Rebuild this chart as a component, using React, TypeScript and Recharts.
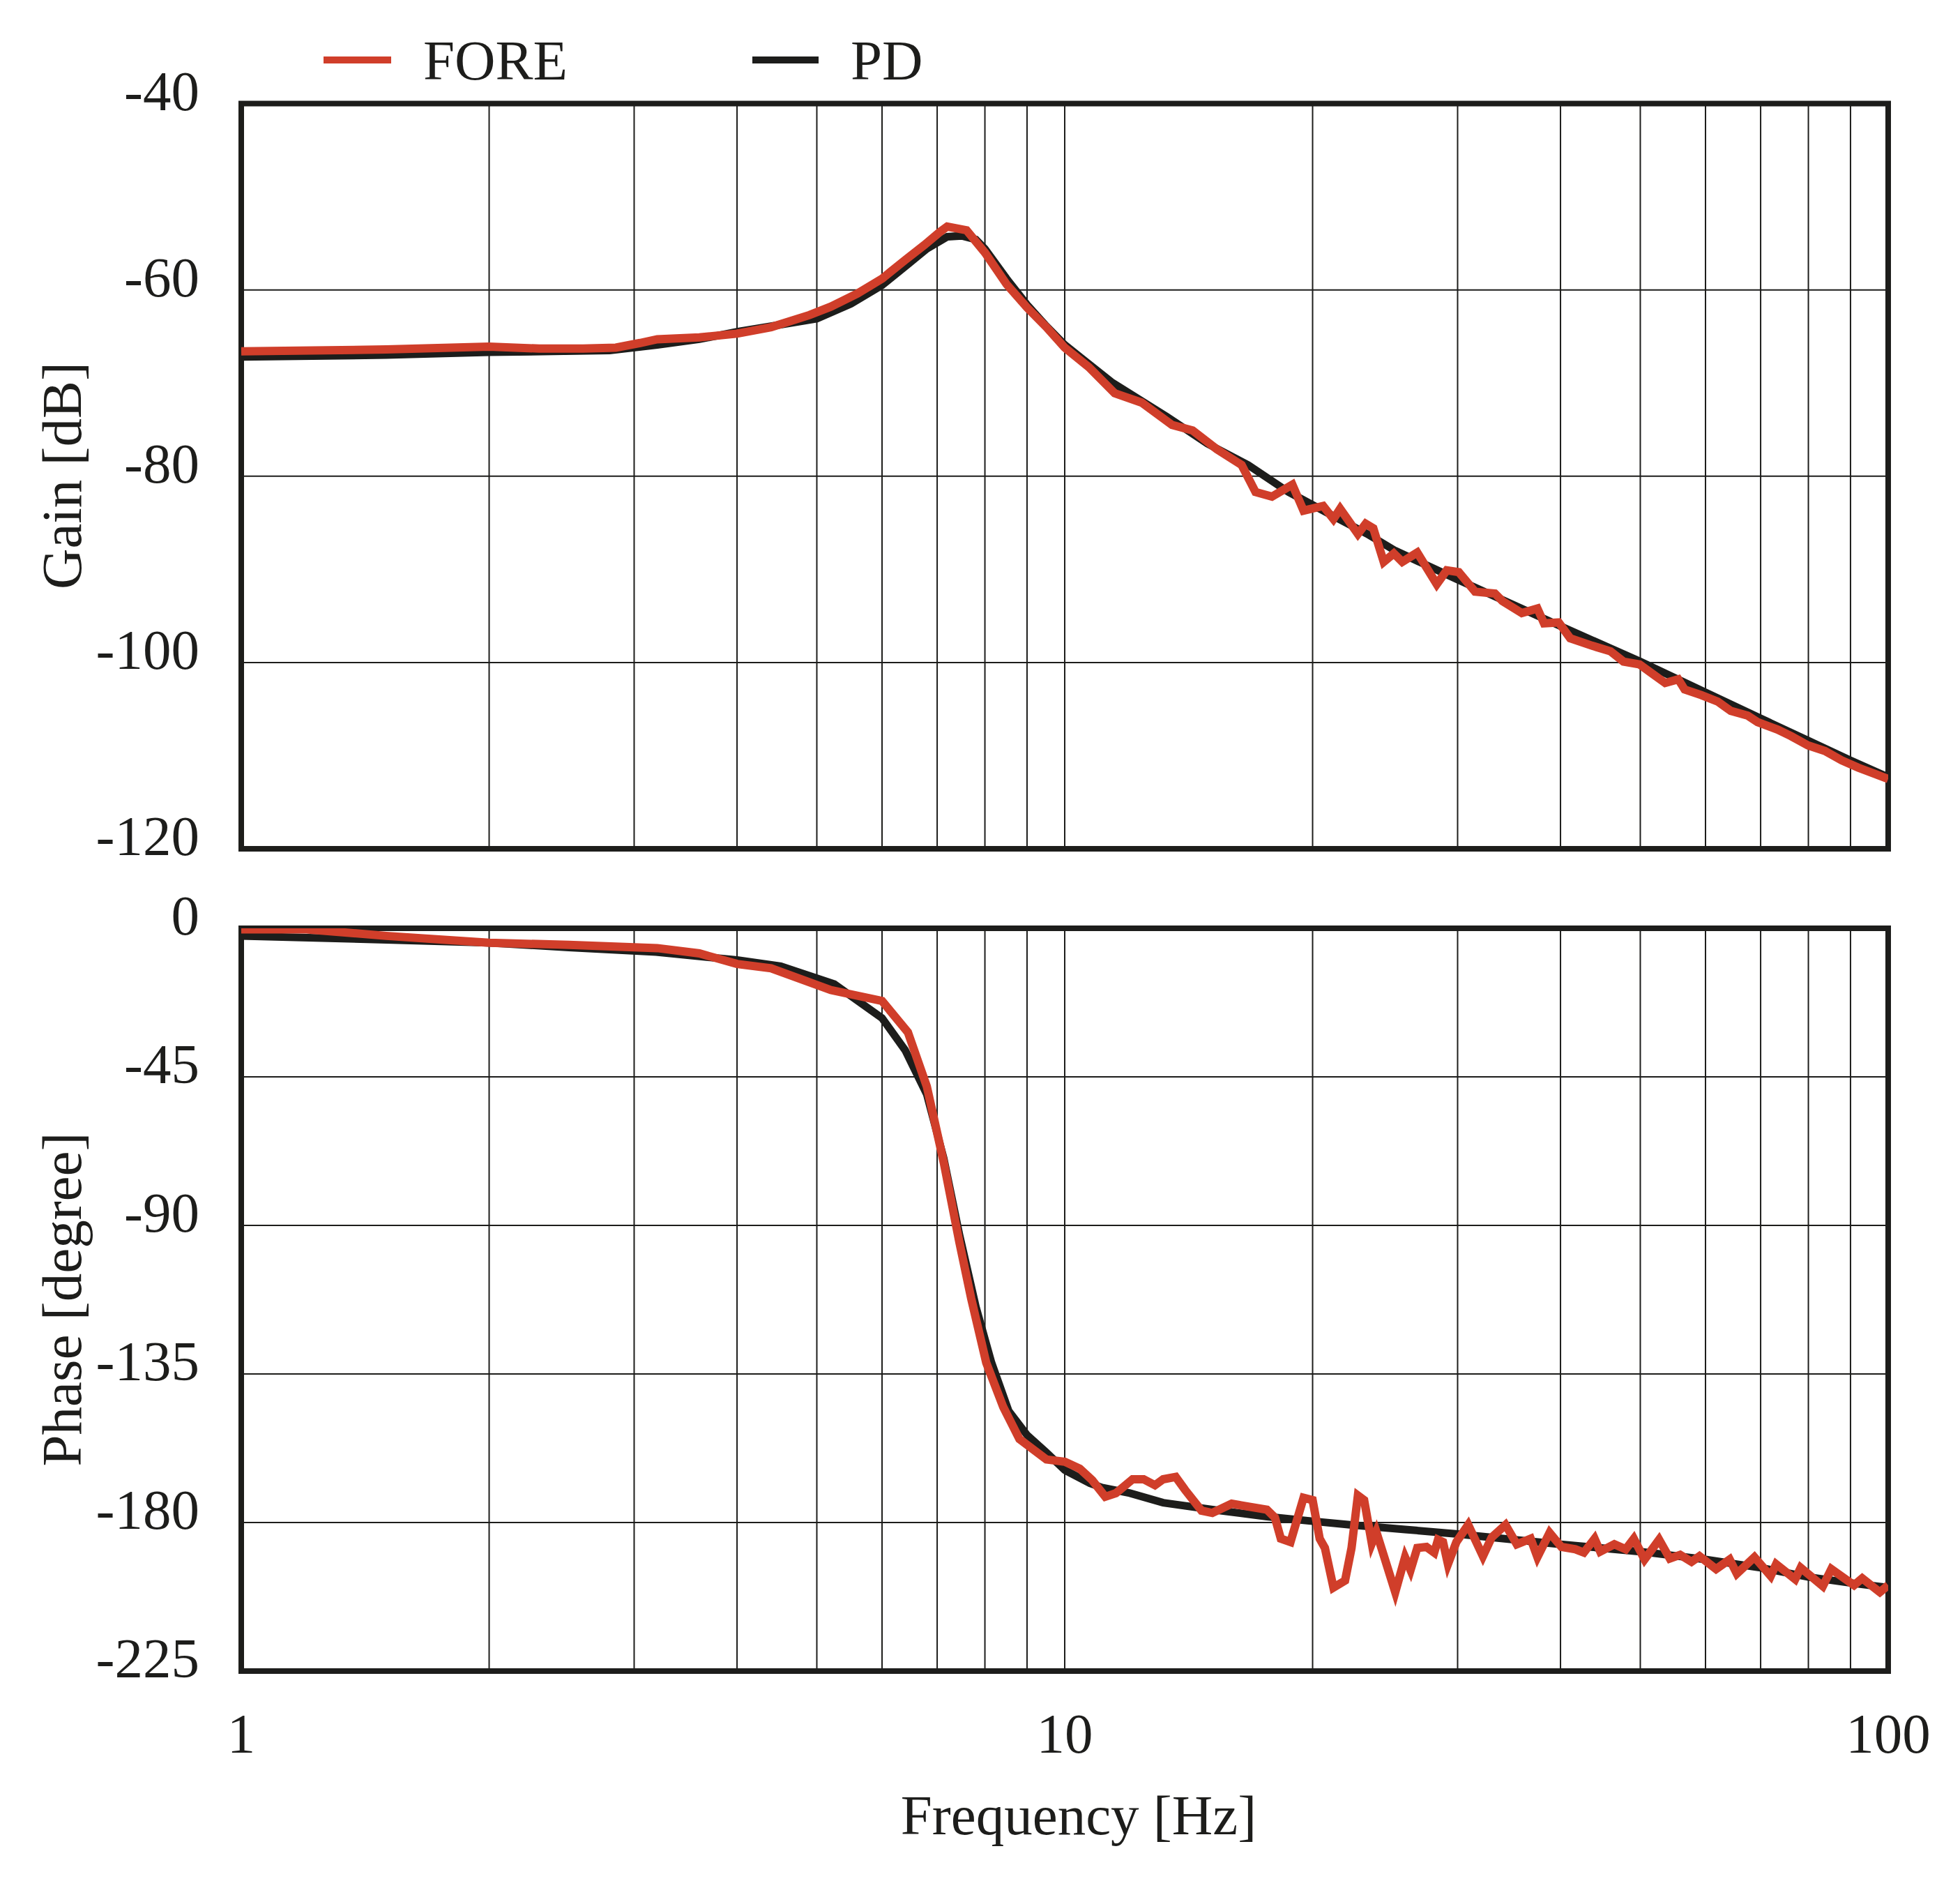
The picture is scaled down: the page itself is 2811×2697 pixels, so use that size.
import React from 'react'
import {
  LineChart,
  Line,
  XAxis,
  YAxis,
  CartesianGrid,
  ReferenceArea,
} from 'recharts'

// measured FORE gain
const foreGainFreq = [
  1.0, 1.5, 2.0, 2.3, 2.6, 2.85, 3.05, 3.2, 3.6, 4.0, 4.4, 4.9, 5.2, 5.6, 6.0, 6.4, 6.75, 7.05, 7.2, 7.6,
  8.0, 8.5, 9.0, 9.5, 10.0, 10.7, 11.5, 12.4, 13.5, 14.3, 15.3, 16.4, 17.05, 17.85, 18.9, 19.5, 20.6, 21.2,
  21.6, 22.7, 23.2, 23.7, 24.4, 25.1, 25.7, 26.8, 28.3, 29.1, 30.1, 31.5, 33.3, 34.0, 35.9, 37.5, 38.2,
  39.8, 41.1, 43.7, 46.0, 47.7, 49.9, 51.7, 53.6, 55.6, 56.6, 59.3, 62.1, 64.4, 67.5, 69.4, 73.4, 76.2,
  79.9, 83.8, 87.8, 92.0, 96.6, 100,
]
const foreGainDb = [
  -66.6, -66.4, -66.1, -66.3, -66.3, -66.2, -65.7, -65.3, -65.1, -64.7, -64.0, -62.7, -61.8, -60.4, -58.8,
  -56.8, -55.2, -53.8, -53.2, -53.6, -56.0, -59.4, -61.9, -64.0, -66.2, -68.3, -71.1, -72.1, -74.5, -75.1,
  -77.1, -78.8, -81.7, -82.2, -80.9, -83.7, -83.2, -84.6, -83.5, -86.2, -85.1, -85.6, -89.2, -88.3, -89.2,
  -88.2, -91.6, -90.1, -90.3, -92.4, -92.6, -93.4, -94.7, -94.2, -95.8, -95.7, -97.4, -98.2, -98.8, -99.9,
  -100.2, -101.2, -102.2, -101.8, -102.9, -103.5, -104.2, -105.2, -105.7, -106.4, -107.2, -107.9, -108.9,
  -109.5, -110.5, -111.3, -112.0, -112.5,
]

// PD model gain
const pdGainFreq = [
  1.0, 1.5, 2.0, 2.8, 3.2, 3.6, 4.0, 4.4, 5.0, 5.5, 6.0, 6.4, 6.8, 7.2, 7.5, 7.8, 8.0, 8.5, 9.0, 9.5, 10.0,
  11.4, 13.3, 14.9, 16.7, 18.7, 20.9, 23.3, 25.2, 30, 40, 50, 60, 70, 80, 90, 100,
]
const pdGainDb = [
  -67.2, -67.0, -66.7, -66.5, -65.9, -65.3, -64.5, -63.9, -63.1, -61.5, -59.5, -57.5, -55.6, -54.3, -54.2,
  -54.6, -55.6, -58.8, -61.6, -63.9, -65.9, -69.9, -73.6, -76.5, -78.8, -81.7, -84.0, -86.2, -88.0, -91.1,
  -96.1, -99.9, -103.2, -106.0, -108.4, -110.5, -112.3,
]

// measured FORE phase
const forePhaseFreq = [
  1.0, 1.2, 1.5, 2.0, 2.5, 3.2, 3.6, 4.0, 4.4, 5.2, 6.0, 6.45, 6.8, 7.13, 7.45, 7.7, 8.03, 8.42, 8.81, 9.5,
  10.0, 10.43, 10.8, 11.2, 11.54, 12.09, 12.47, 12.87, 13.17, 13.64, 14.0, 14.66, 15.11, 15.95, 16.56, 17.6,
  18.0, 18.3, 18.8, 19.5, 20.0, 20.4, 20.7, 21.2, 21.9, 22.3, 22.7, 23.1, 23.6, 23.9, 25.2, 25.9, 26.3, 26.8,
  27.5, 28.1, 28.4, 28.8, 29.2, 29.9, 30.9, 32.2, 33.0, 34.3, 35.4, 36.8, 37.5, 38.8, 40.1, 41.7, 42.7, 44.0,
  44.7, 46.5, 48.0, 49.1, 50.6, 52.7, 54.3, 55.9, 57.7, 59.0, 61.8, 64.2, 65.5, 68.8, 72.0, 73.1, 77.1, 78.3,
  83.3, 85.3, 90.9, 93.0, 97.7, 100,
]
const forePhaseDeg = [
  -0.3, -0.3, -2.3, -4.4, -5.0, -6.0, -7.6, -10.8, -12.1, -18.7, -22.0, -31.5, -47.9, -70.9, -95.2, -112.2,
  -131.6, -145.0, -154.7, -160.9, -161.6, -163.7, -167.2, -172.2, -171.1, -166.9, -166.9, -168.7, -166.9,
  -166.2, -170.1, -176.4, -177.1, -174.3, -175.0, -176.1, -178.5, -184.9, -185.9, -172.5, -173.2, -184.9,
  -187.7, -199.7, -197.6, -187.7, -171.8, -173.2, -186.3, -182.8, -201.1, -190.5, -194.4, -187.7, -187.4,
  -189.1, -185.2, -185.9, -192.6, -185.9, -180.7, -190.2, -184.5, -180.7, -186.6, -184.9, -190.5, -183.1,
  -187.4, -188.1, -189.1, -184.9, -188.8, -186.6, -188.1, -184.9, -191.2, -185.2, -190.9, -189.8, -191.9,
  -190.2, -194.1, -191.2, -195.5, -190.5, -196.2, -192.6, -197.2, -193.7, -199.3, -194.1, -199.0, -196.9,
  -201.1, -199.0,
]

// PD model phase
const pdPhaseFreq = [
  1.0, 1.5, 2.0, 2.5, 3.19, 4.0, 4.52, 5.25, 6.0, 6.4, 6.8, 7.13, 7.45, 7.8, 8.15, 8.55, 9.0, 9.5, 10.0,
  10.73, 11.1, 12.0, 13.17, 15.11, 17.6, 20, 22.2, 25.9, 30, 40, 50, 60, 70, 80, 90, 100,
]
const pdPhaseDeg = [
  -2.3, -3.5, -4.4, -5.8, -7.2, -9.6, -11.5, -16.9, -27.2, -36.9, -50.3, -69.7, -92.8, -114.6, -131.6,
  -146.2, -153.5, -158.8, -164.1, -168.1, -169.4, -171.1, -174.0, -176.1, -178.2, -179.6, -180.7, -182.1,
  -183.5, -186.6, -188.8, -191.2, -193.7, -196.5, -198.3, -199.7,
]

const freqGridLines = [1, 2, 3, 4, 5, 6, 7, 8, 9, 10, 20, 30, 40, 50, 60, 70, 80, 90, 100]
const freqTickLabels = [1, 10, 100]
const gainTicks = [-120, -100, -80, -60, -40]
const phaseTicks = [-225, -180, -135, -90, -45, 0]

const RED = '#d03e2a'
const INK = '#1d1d1b'
const FONT = '"Liberation Serif", "Times New Roman", serif'
const FONT_SIZE = 81

function zip(fs: number[], vs: number[]) {
  return fs.map((f, i) => ({ f, v: vs[i] }))
}

const foreGain = zip(foreGainFreq, foreGainDb)
const pdGain = zip(pdGainFreq, pdGainDb)
const forePhase = zip(forePhaseFreq, forePhaseDeg)
const pdPhase = zip(pdPhaseFreq, pdPhaseDeg)

function YTick({ x, y, payload }: any) {
  return (
    <text x={x} y={y + 9} textAnchor="end" fontFamily={FONT} fontSize={FONT_SIZE} fill={INK}>
      {payload.value}
    </text>
  )
}

function XTick({ x, y, payload }: any) {
  if (!freqTickLabels.includes(payload.value)) return <g />
  return (
    <text x={x} y={y} textAnchor="middle" fontFamily={FONT} fontSize={FONT_SIZE} fill={INK}>
      {payload.value}
    </text>
  )
}

// top panel keeps its ticks (for the grid) but shows no labels
function NoTick() {
  return <g />
}

const W = 2811
const MARGIN_RIGHT = 103
const Y_AXIS_W = 346
const RED_W = 12
const INK_W = 11
const PHASE_TOP = 1230

export default function App() {
  return (
    <div style={{ position: 'absolute', left: 0, top: 0, width: W, height: 2697, background: '#fff' }}>
      {/* gain panel */}
      <div style={{ position: 'absolute', left: 0, top: 0 }}>
        <LineChart width={W} height={1230} margin={{ top: 148.5, right: MARGIN_RIGHT, bottom: 12, left: 0 }}>
          <CartesianGrid stroke={INK} strokeWidth={2} />
          <XAxis
            type="number"
            dataKey="f"
            scale="log"
            domain={[1, 100]}
            ticks={freqGridLines}
            allowDataOverflow
            height={1}
            tickSize={0}
            tick={<NoTick />}
            tickLine={false}
            axisLine={false}
          />
          <YAxis
            type="number"
            domain={[-120, -40]}
            ticks={gainTicks}
            allowDataOverflow
            width={Y_AXIS_W}
            tickSize={0}
            tickMargin={60}
            tick={<YTick />}
            tickLine={false}
            axisLine={false}
          />
          <ReferenceArea x1={1} x2={100} y1={-120} y2={-40} fill="none" stroke={INK} strokeWidth={8} />
          <Line data={pdGain} dataKey="v" type="linear" stroke={INK} strokeWidth={INK_W} dot={false} isAnimationActive={false} />
          <Line data={foreGain} dataKey="v" type="linear" stroke={RED} strokeWidth={RED_W} dot={false} isAnimationActive={false} />
        </LineChart>
      </div>

      {/* phase panel */}
      <div style={{ position: 'absolute', left: 0, top: PHASE_TOP }}>
        <LineChart width={W} height={2697 - PHASE_TOP} margin={{ top: 1331 - PHASE_TOP, right: MARGIN_RIGHT, bottom: 0, left: 0 }}>
          <CartesianGrid stroke={INK} strokeWidth={2} />
          <XAxis
            type="number"
            dataKey="f"
            scale="log"
            domain={[1, 100]}
            ticks={freqGridLines}
            allowDataOverflow
            height={301}
            tickSize={0}
            tickMargin={117}
            tick={<XTick />}
            tickLine={false}
            axisLine={false}
          />
          <YAxis
            type="number"
            domain={[-225, 0]}
            ticks={phaseTicks}
            allowDataOverflow
            width={Y_AXIS_W}
            tickSize={0}
            tickMargin={60}
            tick={<YTick />}
            tickLine={false}
            axisLine={false}
          />
          <ReferenceArea x1={1} x2={100} y1={-225} y2={0} fill="none" stroke={INK} strokeWidth={8} />
          <Line data={pdPhase} dataKey="v" type="linear" stroke={INK} strokeWidth={INK_W} dot={false} isAnimationActive={false} />
          <Line data={forePhase} dataKey="v" type="linear" stroke={RED} strokeWidth={RED_W} dot={false} isAnimationActive={false} />
        </LineChart>
      </div>

      {/* legend and axis titles */}
      <svg
        width={W}
        height={2697}
        style={{ position: 'absolute', left: 0, top: 0, pointerEvents: 'none' }}
        fontFamily={FONT}
        fontSize={FONT_SIZE}
        fill={INK}
      >
        <line x1={464} x2={561} y1={86} y2={86} stroke={RED} strokeWidth={10} />
        <text x={607} y={114}>FORE</text>
        <line x1={1079} x2={1174} y1={86} y2={86} stroke={INK} strokeWidth={10} />
        <text x={1220} y={114}>PD</text>
        <g transform="translate(116 682) rotate(-90)">
          <text x={0} y={0} textAnchor="middle">Gain [dB]</text>
        </g>
        <g transform="translate(116 1863) rotate(-90)">
          <text x={0} y={0} textAnchor="middle">Phase [degree]</text>
        </g>
        <text x={1547} y={2630} textAnchor="middle">Frequency [Hz]</text>
      </svg>
    </div>
  )
}
